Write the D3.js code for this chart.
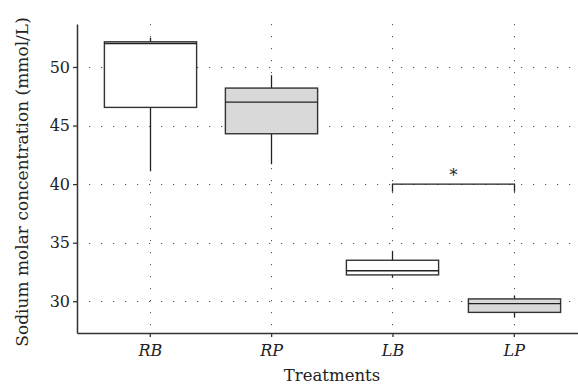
<!DOCTYPE html>
<html>
<head>
<meta charset="utf-8">
<script src="https://cdn.jsdelivr.net/npm/d3@7"></script>
<style>
  body { margin: 0; background: #fff; }
  svg text { font-family: "DejaVu Serif", "Liberation Serif", serif; fill: #222; }
</style>
</head>
<body>
<div id="chart"></div>
<script>
// Treatments and their box statistics (mmol/L)
const treatments = ["RB", "RP", "LB", "LP"];
const whiskerLow = [41.1, 41.7, 32.0, 28.6];
const q1 = [46.55, 44.3, 32.25, 29.05];
const median = [52.0, 47.0, 32.6, 29.8];
const q3 = [52.15, 48.2, 33.5, 30.2];
const whiskerHigh = [52.5, 49.3, 34.3, 30.5];
const boxFill = ["#ffffff", "#d9d9d9", "#ffffff", "#d9d9d9"];
const yTicks = [30, 35, 40, 45, 50];

// significance bracket between LB and LP
const sigPair = ["LB", "LP"];
const sigLevel = 40;
const sigLabel = "*";

const width = 578, height = 387;
const margin = { top: 24, right: 0, bottom: 54, left: 77 };

const svg = d3.select("#chart").append("svg")
    .attr("width", width)
    .attr("height", height);

// x: numeric positions, first category at 1
const x = d3.scaleLinear()
    .domain([0.4, 4.6])
    .range([margin.left, margin.left + 4.2 * 121.33]);
const pos = name => Math.round(x(treatments.indexOf(name) + 1)) + 0.5;

const y = d3.scaleLinear()
    .domain([27.29, 53.67])
    .range([height - margin.bottom, margin.top]);

const halfBox = 0.38 * 121.33;

// grid (dotted)
const grid = svg.append("g").attr("class", "grid")
    .attr("stroke", "#555")
    .attr("stroke-width", 1)
    .attr("stroke-dasharray", "1.2 10.8");

grid.selectAll(".hgrid")
    .data(yTicks)
    .join("line")
    .attr("class", "hgrid")
    .attr("x1", margin.left + 12)
    .attr("x2", width)
    .attr("y1", d => Math.round(y(d)) + 0.5)
    .attr("y2", d => Math.round(y(d)) + 0.5);

grid.selectAll(".vgrid")
    .data(treatments)
    .join("line")
    .attr("class", "vgrid")
    .attr("x1", d => pos(d))
    .attr("x2", d => pos(d))
    .attr("y1", margin.top)
    .attr("y2", height - margin.bottom);

// boxes
const boxes = svg.append("g").attr("class", "boxes")
    .selectAll("g")
    .data(treatments)
    .join("g");

boxes.append("line")
    .attr("x1", d => pos(d)).attr("x2", d => pos(d))
    .attr("y1", (d, i) => y(whiskerLow[i]))
    .attr("y2", (d, i) => y(whiskerHigh[i]))
    .attr("stroke", "#222")
    .attr("stroke-width", 1.3);

boxes.append("rect")
    .attr("x", d => pos(d) - halfBox)
    .attr("width", halfBox * 2)
    .attr("y", (d, i) => y(q3[i]))
    .attr("height", (d, i) => y(q1[i]) - y(q3[i]))
    .attr("fill", (d, i) => boxFill[i])
    .attr("stroke", "#333")
    .attr("stroke-width", 1.4);

boxes.append("line")
    .attr("x1", d => pos(d) - halfBox)
    .attr("x2", d => pos(d) + halfBox)
    .attr("y1", (d, i) => y(median[i]))
    .attr("y2", (d, i) => y(median[i]))
    .attr("stroke", "#222")
    .attr("stroke-width", 1.4);

// significance bracket
const bx1 = pos(sigPair[0]), bx2 = pos(sigPair[1]);
svg.append("path")
    .attr("d", `M${bx1},${y(sigLevel - 0.65)}V${y(sigLevel)}H${bx2}V${y(sigLevel - 0.65)}`)
    .attr("fill", "none")
    .attr("stroke", "#222")
    .attr("stroke-width", 1.3);
svg.append("text")
    .attr("x", (bx1 + bx2) / 2)
    .attr("y", y(sigLevel) - 3)
    .attr("text-anchor", "middle")
    .style("font-size", "16px")
    .text(sigLabel);

// axes
const yAxis = svg.append("g")
    .attr("transform", `translate(${margin.left},0)`)
    .call(d3.axisLeft(y).tickValues(yTicks).tickSize(4).tickSizeOuter(0));
yAxis.select(".domain").attr("stroke", "#333").attr("stroke-width", 1.5);
yAxis.selectAll(".tick line").attr("stroke", "#333").attr("stroke-width", 1.3);
yAxis.selectAll(".tick text")
    .attr("x", -7)
    .style("font-size", "16px")
    .style("font-family", "'DejaVu Serif', serif");

const xAxis = svg.append("g")
    .attr("transform", `translate(0,${height - margin.bottom})`)
    .call(d3.axisBottom(x)
        .tickValues(treatments.map((d, i) => i + 1))
        .tickFormat(d => treatments[d - 1])
        .tickSize(4)
        .tickSizeOuter(0));
xAxis.select(".domain").attr("stroke", "#333").attr("stroke-width", 1.5);
xAxis.selectAll(".tick line").attr("stroke", "#333").attr("stroke-width", 1.3);
xAxis.selectAll(".tick text")
    .attr("y", 12)
    .style("font-size", "16px")
    .style("font-style", "italic")
    .style("font-family", "'DejaVu Serif', serif");

// axis titles
svg.append("text")
    .attr("x", 332)
    .attr("y", 381)
    .attr("text-anchor", "middle")
    .style("font-size", "16.5px")
    .text("Treatments");

svg.append("text")
    .attr("transform", `translate(28,182) rotate(-90)`)
    .attr("text-anchor", "middle")
    .style("font-size", "17px")
    .text("Sodium molar concentration (mmol/L)");
</script>
</body>
</html>
